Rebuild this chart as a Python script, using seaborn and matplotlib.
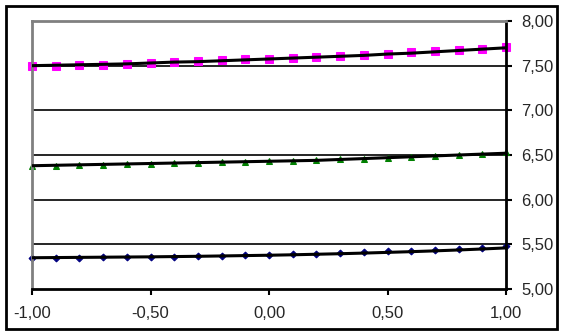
import numpy as np
import pandas as pd
import matplotlib
matplotlib.use("Agg")
import matplotlib.pyplot as plt
from matplotlib.ticker import FuncFormatter, MultipleLocator
import seaborn as sns

x = [-1.0, -0.9, -0.8, -0.7, -0.6, -0.5, -0.4, -0.3, -0.2, -0.1, 0.0,
     0.1, 0.2, 0.3, 0.4, 0.5, 0.6, 0.7, 0.8, 0.9, 1.0]
pink = [7.50, 7.50, 7.51, 7.51, 7.52, 7.53, 7.54, 7.55, 7.56, 7.57, 7.58,
        7.59, 7.60, 7.61, 7.62, 7.63, 7.65, 7.66, 7.67, 7.69, 7.71]
pink_fit = [7.50, 7.505, 7.51, 7.515, 7.52, 7.53, 7.54, 7.545, 7.555, 7.565, 7.575,
            7.585, 7.595, 7.605, 7.615, 7.63, 7.64, 7.655, 7.67, 7.685, 7.70]
green = [6.38, 6.38, 6.39, 6.39, 6.40, 6.40, 6.41, 6.41, 6.42, 6.42, 6.43,
         6.43, 6.44, 6.45, 6.46, 6.47, 6.48, 6.49, 6.50, 6.51, 6.53]
green_fit = [6.38, 6.385, 6.39, 6.395, 6.40, 6.405, 6.41, 6.415, 6.42, 6.425, 6.43,
             6.435, 6.44, 6.45, 6.46, 6.47, 6.48, 6.49, 6.50, 6.51, 6.52]
blue = [5.35, 5.35, 5.35, 5.36, 5.36, 5.36, 5.36, 5.37, 5.37, 5.38, 5.38,
        5.39, 5.39, 5.40, 5.41, 5.42, 5.43, 5.44, 5.45, 5.46, 5.48]
blue_fit = [5.35, 5.352, 5.354, 5.356, 5.358, 5.36, 5.363, 5.366, 5.37, 5.374, 5.378,
            5.383, 5.389, 5.395, 5.402, 5.41, 5.418, 5.427, 5.437, 5.448, 5.46]

df = pd.DataFrame({"x": x, "pink": pink, "green": green, "blue": blue,
                   "pink_fit": pink_fit, "green_fit": green_fit, "blue_fit": blue_fit})

sns.set_style("white")
plt.rcParams['font.family'] = ['Liberation Sans', 'DejaVu Sans']

fig = plt.figure(figsize=(5.63, 3.34), dpi=100)
ax = fig.add_axes([32/563, 45/334, 474/563, 268/334])

# outer frame
fig.patches.append(plt.Rectangle((6/563, 5/334), 551/563, 323/334, transform=fig.transFigure,
                                 fill=False, edgecolor="black", linewidth=2))

for yv in [5.5, 6.0, 6.5, 7.0, 7.5]:
    ax.axhline(yv, color="black", linewidth=1.2, zorder=1)

sns.lineplot(data=df, x="x", y="pink", ax=ax, color="#FF00FF", marker="s", markersize=6,
             markeredgecolor="#FF00FF", linewidth=0, zorder=2, clip_on=False)
sns.lineplot(data=df, x="x", y="green", ax=ax, color="#008000", marker="^", markersize=4,
             markeredgecolor="#008000", linewidth=0, zorder=2, clip_on=False)
sns.lineplot(data=df, x="x", y="blue", ax=ax, color="#000080", marker="D", markersize=3.5,
             markeredgecolor="#000080", linewidth=0, zorder=2, clip_on=False)
for col in ["pink_fit", "green_fit", "blue_fit"]:
    sns.lineplot(data=df, x="x", y=col, ax=ax, color="black", linewidth=2.2, zorder=3)

ax.set_xlim(-1, 1)
ax.set_ylim(5, 8)
ax.xaxis.set_major_locator(MultipleLocator(0.5))
ax.yaxis.set_major_locator(MultipleLocator(0.5))
fmt = FuncFormatter(lambda v, p: f"{v:.2f}".replace(".", ",").replace("-0,00", "0,00"))
ax.xaxis.set_major_formatter(fmt)
ax.yaxis.set_major_formatter(fmt)
ax.yaxis.tick_right()
ax.tick_params(axis="both", direction="out", length=4, width=1.5, color="black",
               labelsize=12, bottom=True, right=True, left=False, top=False)
ax.tick_params(axis="y", pad=7)
ax.tick_params(axis="x", pad=8)
ax.set_xlabel("")
ax.set_ylabel("")

ax.spines["left"].set_color("gray")
ax.spines["top"].set_color("gray")
ax.spines["left"].set_linewidth(2)
ax.spines["top"].set_linewidth(2)
ax.spines["right"].set_color("black")
ax.spines["bottom"].set_color("black")
ax.spines["right"].set_linewidth(2)
ax.spines["bottom"].set_linewidth(2)

fig.savefig("out.png", dpi=100)
